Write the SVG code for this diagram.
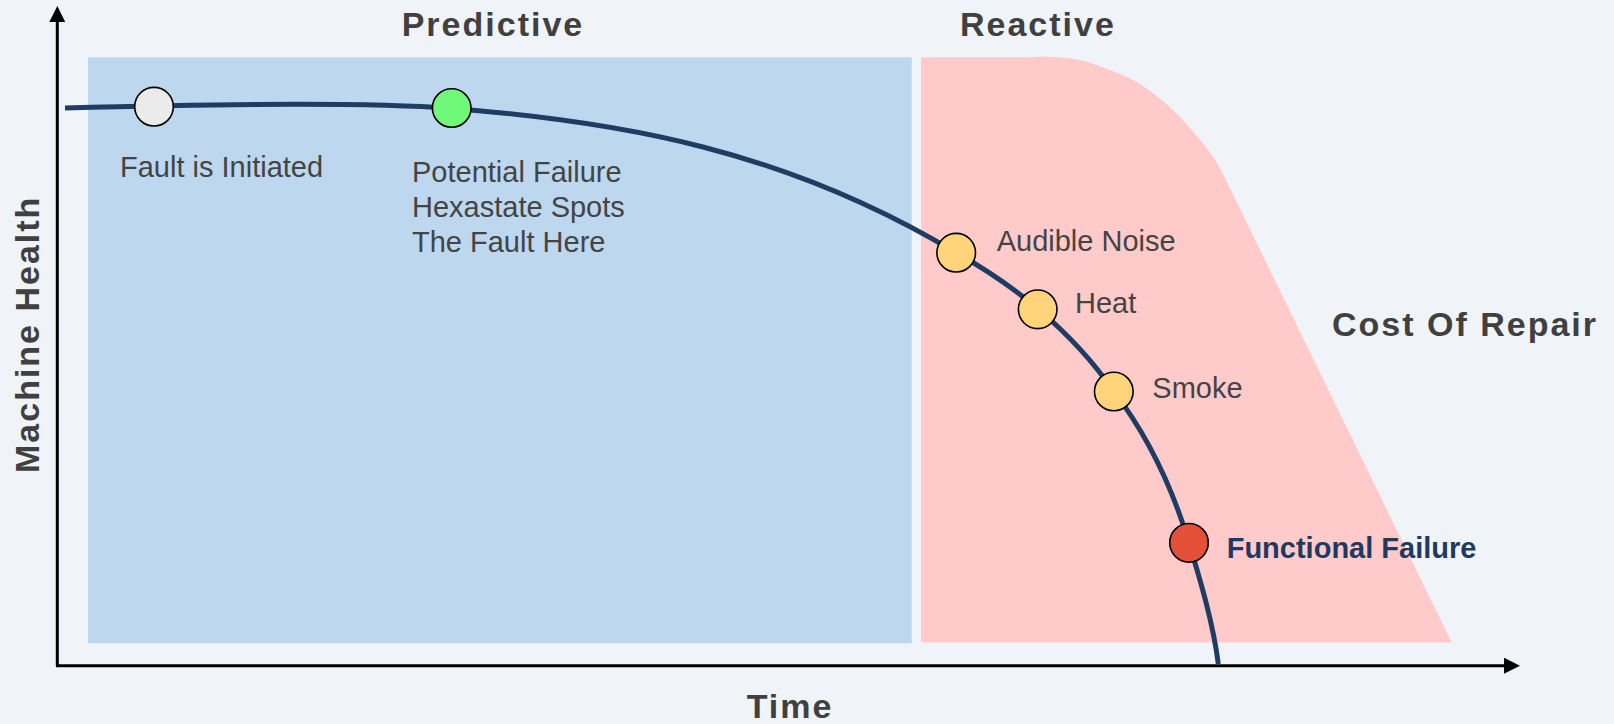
<svg xmlns="http://www.w3.org/2000/svg" width="1614" height="724" viewBox="0 0 1614 724">
<style>
  text { font-family: "Liberation Sans", Arial, sans-serif; }
  .title { font-size: 34px; font-weight: bold; fill: #404040; letter-spacing: 2px; }
  .lbl { font-size: 29px; fill: #444444; }
  .ff { font-size: 29px; font-weight: bold; fill: #1F3A60; }
  .dot { stroke: #000000; stroke-width: 1.6; }
  .axis { stroke: #000000; stroke-width: 3; fill: none; }
  .curve { stroke: #1F3D63; stroke-width: 5; fill: none; stroke-linecap: butt; }
</style>
<defs>
  <marker id="arrow" viewBox="0 0 16 16" refX="2" refY="8" markerWidth="16" markerHeight="16" markerUnits="userSpaceOnUse" orient="auto">
    <path d="M0,0 L16,8 L0,16 Z" fill="#000000"/>
  </marker>
</defs>
<rect x="0" y="0" width="1614" height="724" fill="#F0F4F9"/>

<g id="zones">
  <rect id="predictive-zone" x="88" y="57.3" width="823.7" height="586" fill="#BDD7EE"/>
  <path id="reactive-zone" d="M921,57.3 L1030,57.3 C1033.3,57.2 1041.7,56.3 1050,56.7 C1058.3,57.2 1070,57.8 1080,60 C1090,62.2 1101.2,66.7 1110,70 C1118.8,73.3 1125.8,76.2 1133,80 C1140.2,83.8 1146.3,88 1153,93 C1159.7,98 1166.8,104.2 1173,110 C1179.2,115.8 1183.5,120.5 1190,128 C1196.5,135.5 1206,146.3 1212,155 C1218,163.7 1221,170 1226,180 L1451.7,642.5 L921,642.5 Z" fill="#FFCACA"/>
</g>

<g id="axes">
  <line class="axis" x1="57.3" y1="666" x2="57.3" y2="20" marker-end="url(#arrow)"/>
  <line class="axis" x1="56" y1="665.7" x2="1506" y2="665.7" marker-end="url(#arrow)"/>
</g>

<g id="connectors">
  <path class="curve" d="M65,108 C250,103 380,103 451.7,108.5 C622,121.6 786,150.7 956,252.7 C1013,284 1072,331 1113.8,391.5 C1143.8,430.5 1169,476.8 1189,542.8 C1201,582.8 1213.3,624 1218.3,664"/>
</g>

<g id="node-fault-initiated">
  <circle class="dot" cx="154" cy="106.7" r="19.3" fill="#EBEBEB"/>
  <text class="lbl" x="120" y="176.7">Fault is Initiated</text>
</g>
<g id="node-potential-failure">
  <circle class="dot" cx="451.7" cy="108" r="19.3" fill="#70F87A"/>
  <text class="lbl" x="412" y="181.7">Potential Failure</text>
  <text class="lbl" x="412" y="216.7">Hexastate Spots</text>
  <text class="lbl" x="412" y="251.7">The Fault Here</text>
</g>
<g id="node-audible-noise">
  <circle class="dot" cx="956.2" cy="252.7" r="19.3" fill="#FFD47A"/>
  <text class="lbl" x="996.7" y="250.7">Audible Noise</text>
</g>
<g id="node-heat">
  <circle class="dot" cx="1037.7" cy="309.3" r="19.3" fill="#FFD47A"/>
  <text class="lbl" x="1075" y="313.3">Heat</text>
</g>
<g id="node-smoke">
  <circle class="dot" cx="1113.8" cy="391.5" r="19.3" fill="#FFD47A"/>
  <text class="lbl" x="1152.3" y="398.3">Smoke</text>
</g>
<g id="node-functional-failure">
  <circle class="dot" cx="1189" cy="542.8" r="19.3" fill="#E35037"/>
  <text class="ff" x="1226.7" y="558.3">Functional Failure</text>
</g>

<g id="titles">
  <text class="title" x="401.7" y="36">Predictive</text>
  <text class="title" x="960" y="36">Reactive</text>
  <text class="title" x="1332" y="336">Cost Of Repair</text>
  <text class="title" x="746.7" y="718">Time</text>
  <text class="title" transform="translate(39.3,473) rotate(-90)">Machine Health</text>
</g>
</svg>
